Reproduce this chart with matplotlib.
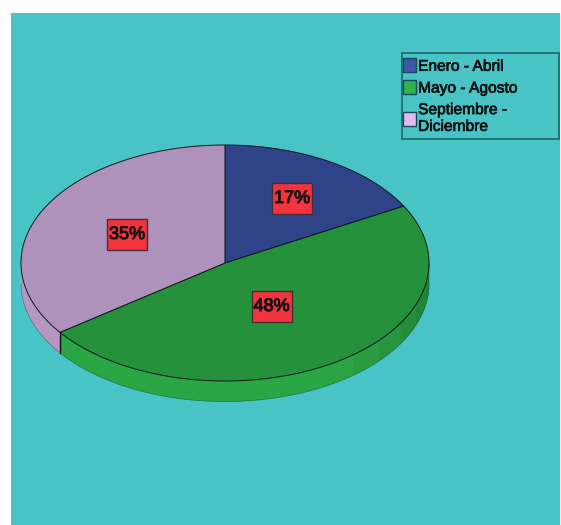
import numpy as np
import matplotlib
matplotlib.use("Agg")
import matplotlib.pyplot as plt
from matplotlib.patches import Polygon, Patch, Rectangle
import matplotlib.patheffects as pe

labels = ["Enero - Abril", "Mayo - Agosto", "Septiembre -\nDiciembre"]
values = [17, 48, 35]
pct_labels = ["17%", "48%", "35%"]
top_colors = ["#2f4488", "#25923b", "#ae92bb"]
side_dark = ["#26386f", "#1e7a33", "#a98db6"]
side_light = ["#2f4488", "#2ba644", "#b498c1"]
legend_colors = ["#3f56a8", "#2fb34a", "#e3b8ee"]
BG = "#48c3c6"

W, H = 561, 525
fig = plt.figure(figsize=(W / 100, H / 100), dpi=100, facecolor="white")
L, T, R = 11, 13, 560
ax = fig.add_axes([L / W, 0, (R - L) / W, (H - T) / H])
ax.set_xlim(L, R)
ax.set_ylim(H, T)
ax.axis("off")
ax.add_patch(Rectangle((L, T), R - L, H - T, fc=BG, ec="none", zorder=0))

cx, cy, rx, ry, depth = 225, 263, 204, 118, 20.5


def pt(a, dy=0):
    a = np.asarray(a)
    return cx + rx * np.sin(a), cy - ry * np.cos(a) + dy


fr = np.cumsum([0] + values) / sum(values) * 2 * np.pi

# side wall facets
for i in range(3):
    a0, a1 = max(fr[i], np.pi / 2), min(fr[i + 1], 3 * np.pi / 2)
    if a1 <= a0:
        continue
    edges = np.linspace(a0, a1, max(2, int((a1 - a0) / 0.17)) + 1)
    dark = np.array(matplotlib.colors.to_rgb(side_dark[i]))
    light = np.array(matplotlib.colors.to_rgb(side_light[i]))
    for e0, e1 in zip(edges[:-1], edges[1:]):
        s = np.linspace(e0, e1, 8)
        xt, yt = pt(s)
        xb, yb = pt(s, depth)
        t = np.clip((0.5 * (e0 + e1) - np.pi / 2) / 1.0, 0, 1)
        col = dark + (light - dark) * t
        ax.add_patch(Polygon(np.r_[np.c_[xt, yt], np.c_[xb, yb][::-1]],
                             fc=col, ec=col, lw=0.5, zorder=2))

# rim details
s = np.linspace(np.pi / 2, 3 * np.pi / 2, 200)
ax.plot(*pt(s, depth), color="#1d5a50", lw=0.5, zorder=3, alpha=0.6)
x, y = pt(fr[2])
ax.plot([x, x], [y, y + depth], color="#111111", lw=1.0, zorder=5)

# top face
for i in range(3):
    s = np.linspace(fr[i], fr[i + 1], 200)
    xs, ys = pt(s)
    ax.add_patch(Polygon(np.r_[[[cx, cy]], np.c_[xs, ys]], closed=True,
                         fc=top_colors[i], ec="#101820", lw=0.7, zorder=4))

# percent labels
label_pos = [(292, 198), (271.5, 306), (127, 234)]
BW, BH = 40, 31
for txt, (x, y) in zip(pct_labels, label_pos):
    ax.add_patch(Rectangle((x - BW / 2, y - BH / 2), BW, BH, fc="#f5333f",
                           ec="#44303a", lw=1.0, zorder=6))
    ax.text(x, y + 0.5, txt, ha="center", va="center", fontsize=13,
            family="Liberation Sans", color="#111111", zorder=7,
            path_effects=[pe.withStroke(linewidth=0.7, foreground="#111111")])

handles = [Patch(fc=c, ec="#1c4a5a", lw=1.0) for c in legend_colors]
leg = ax.legend(handles, labels, loc="upper left", mode="expand",
                bbox_to_anchor=(402, 53, 157, 0), bbox_transform=ax.transData,
                prop=dict(family="Liberation Sans", size=11.2),
                handlelength=0.68, handleheight=1.0, handletextpad=0.0, labelspacing=0.42,
                borderpad=0.35, borderaxespad=0, labelcolor="#111111",
                frameon=True, fancybox=False, framealpha=1, facecolor=BG, edgecolor="#1f6f70")
leg.get_frame().set_linewidth(1.3)
leg.set_zorder(8)
for p in leg.get_patches():
    p.set_x(-3.2)
    p.set_width(9.4)
for t in leg.get_texts():
    t.set_linespacing(1.15)
    t.set_path_effects([pe.withStroke(linewidth=0.5, foreground="#111111")])

fig.savefig("out.png", dpi=100, facecolor="white")
